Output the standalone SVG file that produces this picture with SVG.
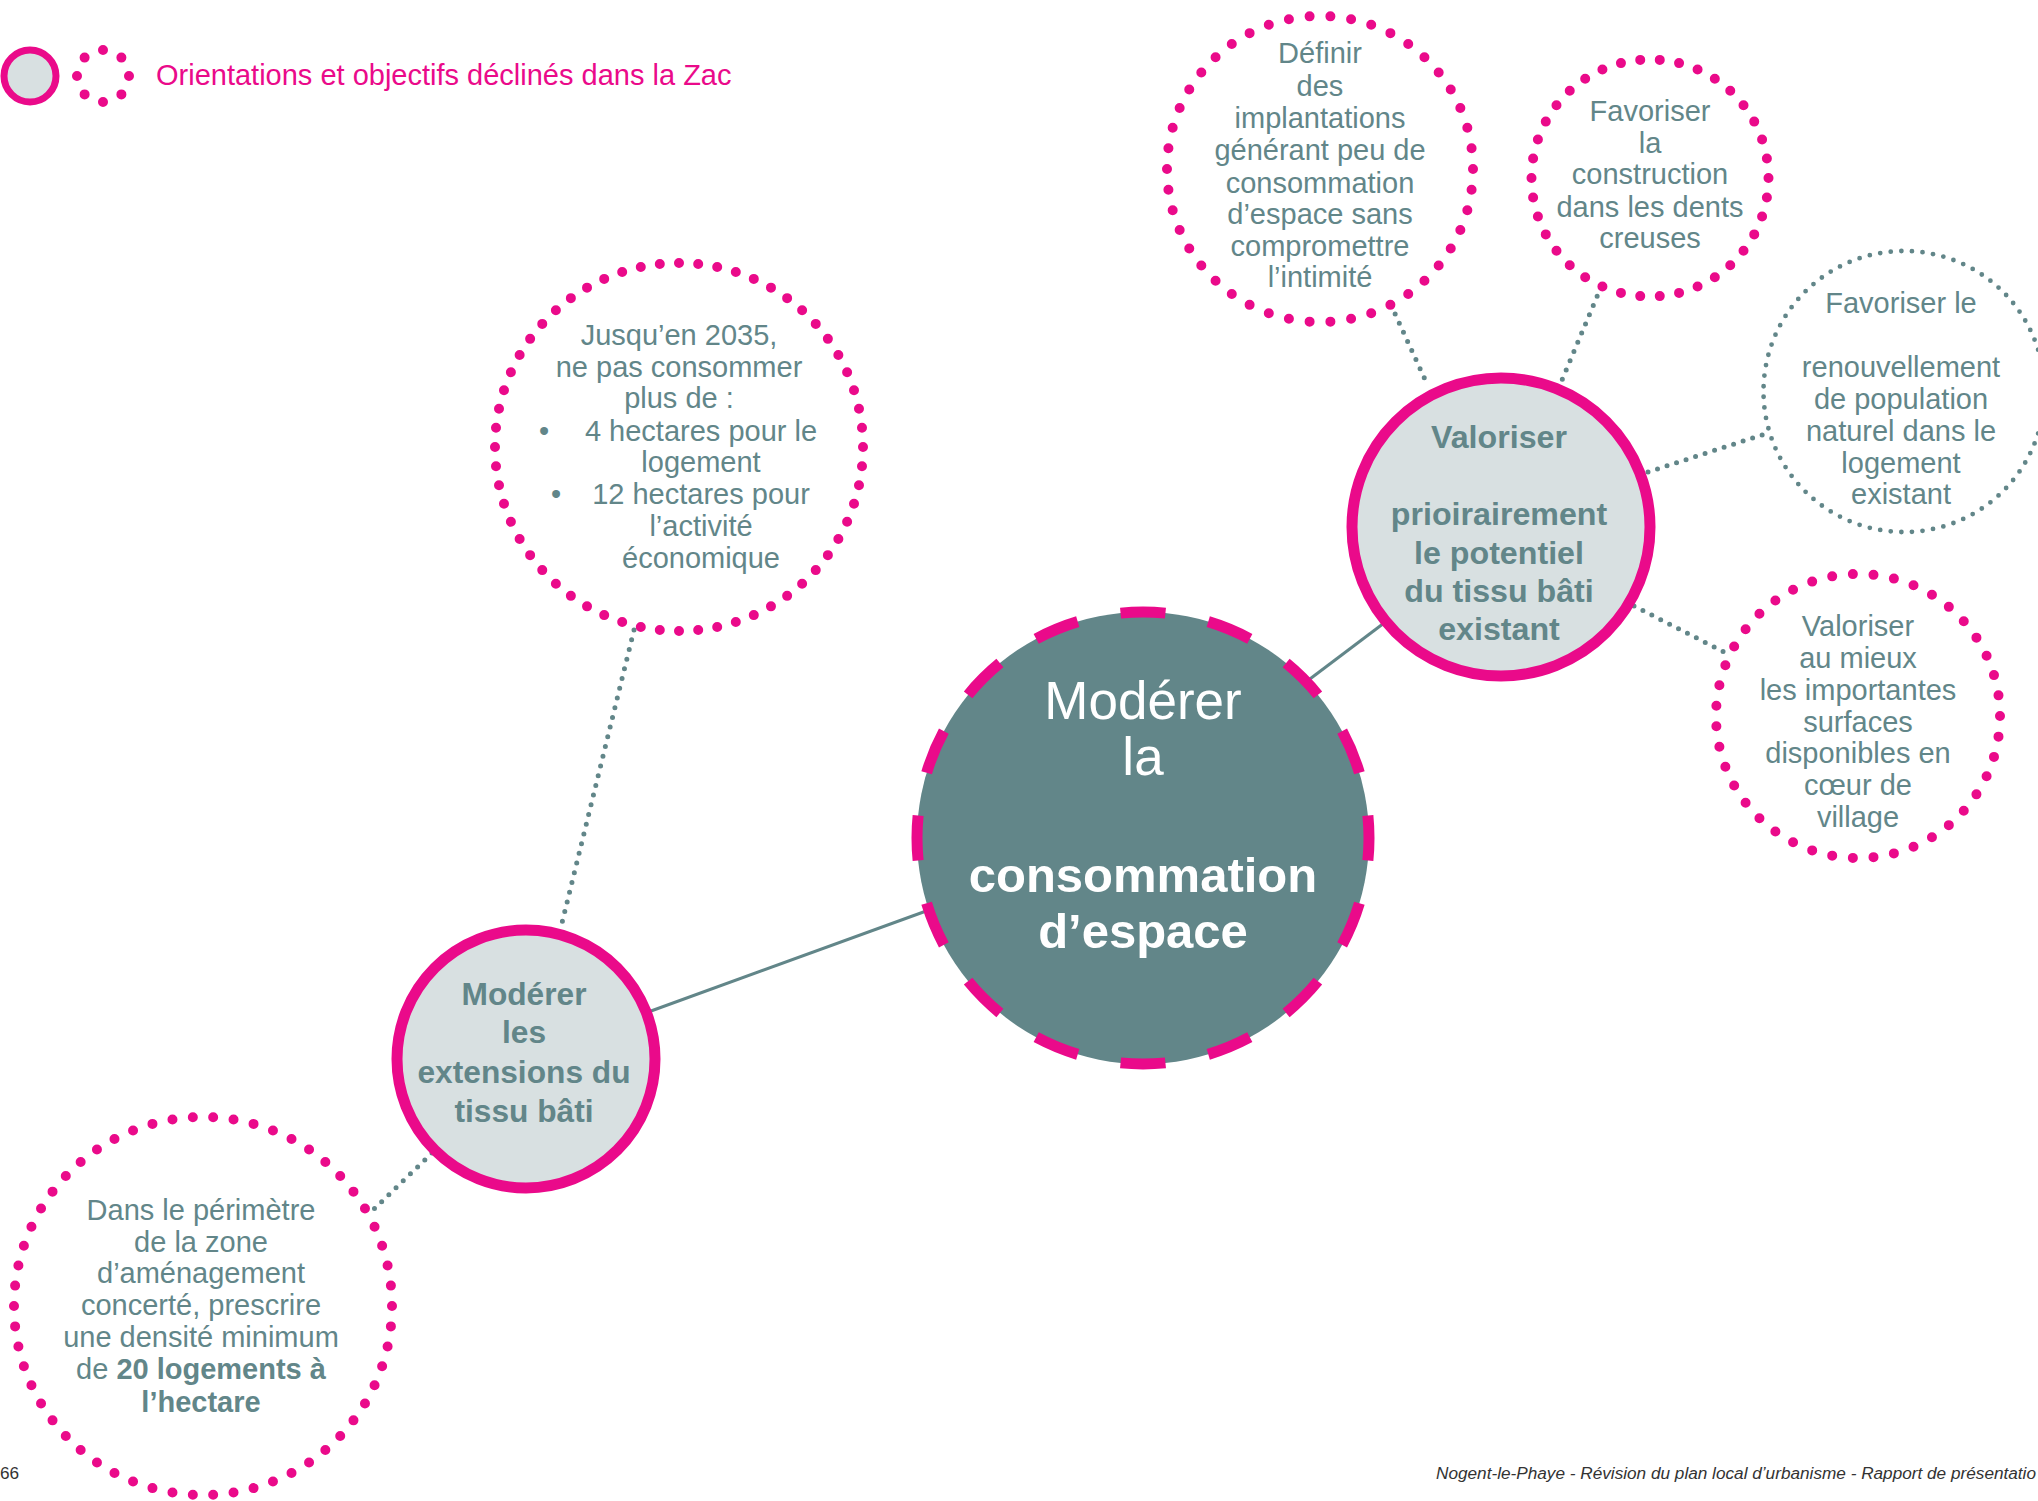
<svg xmlns="http://www.w3.org/2000/svg" width="2038" height="1501" viewBox="0 0 2038 1501">
<style>
.bg{fill:#ffffff}
.txt{font-family:"Liberation Sans",Arial,sans-serif;fill:#628689;font-size:29px;text-anchor:middle}
.b{font-weight:bold}
.big{font-family:"Liberation Sans",Arial,sans-serif;fill:#ffffff;text-anchor:middle}
.dots{fill:none;stroke:#EA0A8A;stroke-width:10;stroke-linecap:round;stroke-dasharray:0 1}
.tdots{fill:none;stroke:#628689;stroke-width:4.8;stroke-linecap:round;stroke-dasharray:0 1}
.solid{fill:#D8E0E1;stroke:#EA0A8A;stroke-width:11}
.link{stroke:#628689;stroke-width:3;fill:none}
.dlink{stroke:#628689;stroke-width:5;stroke-linecap:round;stroke-dasharray:0 10;fill:none}
.foot{font-family:"Liberation Sans",Arial,sans-serif;fill:#333333;font-size:17.2px}
</style>
<rect class="bg" x="0" y="0" width="2038" height="1501"/>

<g id="legend">
  <circle cx="30" cy="76" r="26" fill="#D8E0E1" stroke="#EA0A8A" stroke-width="7"/>
  <circle class="dots" cx="103" cy="76" r="26" pathLength="8" stroke-width="11"/>
  <text x="156" y="85" style="font-family:'Liberation Sans',Arial,sans-serif;font-size:29px;fill:#EA0A8A">Orientations et objectifs déclinés dans la Zac</text>
</g>

<g id="connectors">
  <line class="link" x1="640" y1="1015" x2="940" y2="906"/>
  <line class="link" x1="1290" y1="694" x2="1400" y2="611"/>
  <line class="dlink" x1="634" y1="630" x2="561" y2="927"/>
  <line class="dlink" x1="432" y1="1153" x2="372" y2="1211"/>
  <line class="dlink" x1="1391" y1="305" x2="1428" y2="386"/>
  <line class="dlink" x1="1601" y1="287" x2="1562" y2="380"/>
  <line class="dlink" x1="1648" y1="472" x2="1768" y2="433"/>
  <line class="dlink" x1="1634" y1="606" x2="1724" y2="652"/>
</g>

<g id="node-center">
  <circle cx="1143" cy="838" r="226" fill="#628689" stroke="#EA0A8A" stroke-width="11" pathLength="16" stroke-dasharray="0.507 0.493" stroke-dashoffset="0.2535"/>
  <text class="big" x="1143" y="719" font-size="53">Modérer</text>
  <text class="big" x="1143" y="775" font-size="53">la</text>
  <text class="big b" x="1143" y="892" font-size="49">consommation</text>
  <text class="big b" x="1143" y="948" font-size="49">d’espace</text>
</g>

<g id="node-extensions">
  <circle class="solid" cx="526" cy="1059" r="129" stroke-width="10"/>
  <text class="txt b" style="font-size:31.7px"><tspan x="524" y="1005">Modérer</tspan><tspan x="524" y="1043">les</tspan><tspan x="524" y="1083">extensions du</tspan><tspan x="524" y="1122">tissu bâti</tspan></text>
</g>

<g id="node-valoriser">
  <circle class="solid" cx="1501" cy="527" r="149"/>
  <text class="txt b" style="font-size:32.2px"><tspan x="1499" y="448">Valoriser</tspan><tspan x="1499" y="525">prioirairement</tspan><tspan x="1499" y="564">le potentiel</tspan><tspan x="1499" y="602">du tissu bâti</tspan><tspan x="1499" y="640">existant</tspan></text>
</g>

<g id="node-jusqu">
  <circle class="dots" cx="679" cy="447" r="184" pathLength="60"/>
  <text class="txt"><tspan x="679" y="345">Jusqu’en 2035,</tspan><tspan x="679" y="377">ne pas consommer</tspan><tspan x="679" y="408">plus de :</tspan><tspan x="701" y="441">4 hectares pour le</tspan><tspan x="701" y="472">logement</tspan><tspan x="701" y="504">12 hectares pour</tspan><tspan x="701" y="536">l’activité</tspan><tspan x="701" y="568">économique</tspan></text>
  <text class="txt"><tspan x="544" y="441">•</tspan><tspan x="556" y="504">•</tspan></text>
</g>

<g id="node-dans">
  <circle class="dots" cx="203" cy="1306" r="189" pathLength="58"/>
  <text class="txt"><tspan x="201" y="1220">Dans le périmètre</tspan><tspan x="201" y="1252">de la zone</tspan><tspan x="201" y="1283">d’aménagement</tspan><tspan x="201" y="1315">concerté, prescrire</tspan><tspan x="201" y="1347">une densité minimum</tspan><tspan x="201" y="1379">de <tspan class="b">20 logements à</tspan></tspan><tspan x="201" y="1412" class="b">l’hectare</tspan></text>
</g>

<g id="node-definir">
  <circle class="dots" cx="1320" cy="169" r="153" pathLength="46"/>
  <text class="txt"><tspan x="1320" y="63">Définir</tspan><tspan x="1320" y="96">des</tspan><tspan x="1320" y="128">implantations</tspan><tspan x="1320" y="160">générant peu de</tspan><tspan x="1320" y="193">consommation</tspan><tspan x="1320" y="224">d’espace sans</tspan><tspan x="1320" y="256">compromettre</tspan><tspan x="1320" y="287">l’intimité</tspan></text>
</g>

<g id="node-dents">
  <circle class="dots" cx="1650" cy="178" r="118.5" pathLength="38"/>
  <text class="txt"><tspan x="1650" y="121">Favoriser</tspan><tspan x="1650" y="153">la</tspan><tspan x="1650" y="184">construction</tspan><tspan x="1650" y="217">dans les dents</tspan><tspan x="1650" y="248">creuses</tspan></text>
</g>

<g id="node-renouvellement">
  <circle class="tdots" cx="1904" cy="391.5" r="140.5" pathLength="83"/>
  <text class="txt"><tspan x="1901" y="313">Favoriser le</tspan><tspan x="1901" y="377">renouvellement</tspan><tspan x="1901" y="409">de population</tspan><tspan x="1901" y="441">naturel dans le</tspan><tspan x="1901" y="473">logement</tspan><tspan x="1901" y="504">existant</tspan></text>
</g>

<g id="node-coeur">
  <circle class="dots" cx="1858" cy="716" r="142" pathLength="43"/>
  <text class="txt"><tspan x="1858" y="636">Valoriser</tspan><tspan x="1858" y="668">au mieux</tspan><tspan x="1858" y="700">les importantes</tspan><tspan x="1858" y="732">surfaces</tspan><tspan x="1858" y="763">disponibles en</tspan><tspan x="1858" y="795">cœur de</tspan><tspan x="1858" y="827">village</tspan></text>
</g>

<g id="footer">
  <text class="foot" x="0" y="1479">66</text>
  <text class="foot" x="2036" y="1479" font-style="italic" text-anchor="end">Nogent-le-Phaye - Révision du plan local d’urbanisme - Rapport de présentatio</text>
</g>
</svg>
